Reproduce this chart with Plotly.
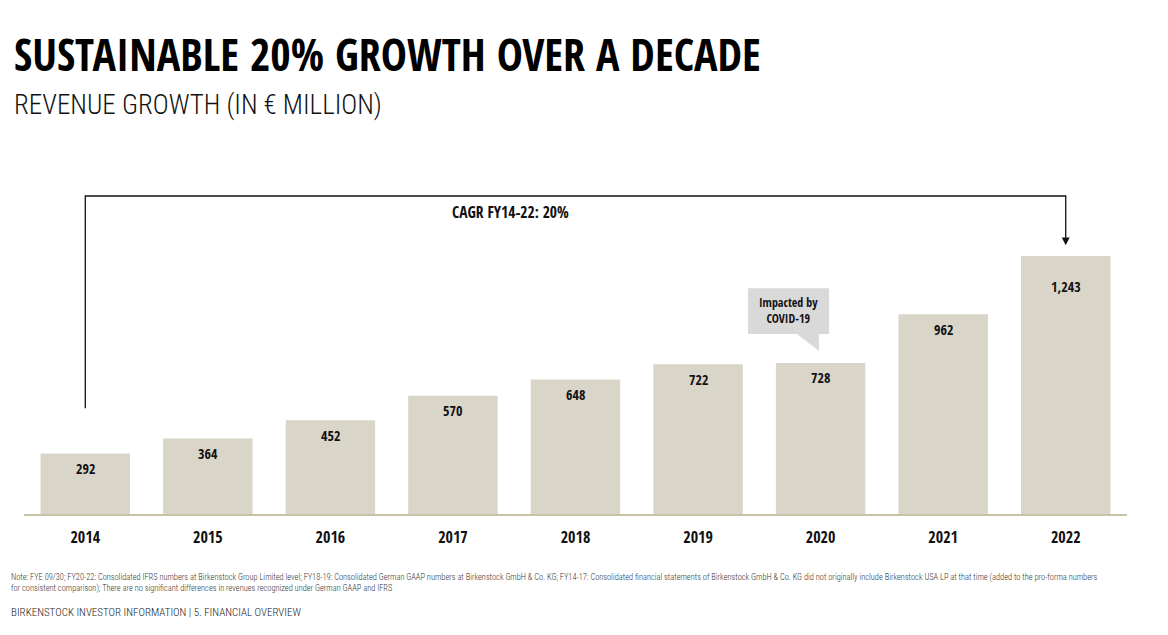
import plotly.graph_objects as go

years = ["2014", "2015", "2016", "2017", "2018", "2019", "2020", "2021", "2022"]
revenue = [292, 364, 452, 570, 648, 722, 728, 962, 1243]
value_labels = ["292", "364", "452", "570", "648", "722", "728", "962", "1,243"]

FONT = "Open Sans Condensed, Roboto Condensed, sans-serif"
LIGHT = "Roboto Condensed, Open Sans Condensed, sans-serif"
BAR = "#d9d5c9"
W, H = 1168, 635
OFF = 8  # page body margin
L, R, T, B = 16, 49, 172, 129
YMAX = 1609

def py(p):
    # page pixel y -> paper y
    return (H - B - (p - OFF)) / (H - T - B)

def px(p):
    return (p - OFF - L) / (W - L - R)

fig = go.Figure()
fig.add_trace(go.Bar(
    x=years, y=revenue, marker=dict(color=BAR, line=dict(width=0)),
    hoverinfo="skip",
))

# value labels inside bars, near the top (x given as category index)
for i, (v, lab) in enumerate(zip(revenue, value_labels)):
    fig.add_annotation(x=i, y=v, xref="x", yref="y", text=lab, showarrow=False,
                       xanchor="center", yanchor="middle",
                       yshift=-31 if i == len(years) - 1 else -15,
                       font=dict(family=FONT, size=14, color="#111111", weight="bold"))

fig.update_layout(
    width=W, height=H, margin=dict(l=L, r=R, t=T, b=B),
    paper_bgcolor="white", plot_bgcolor="white", bargap=0.27,
    showlegend=False,
    xaxis=dict(type="category", showgrid=False, showline=True, linecolor="#c9c0a8", linewidth=1.5,
               ticks="", tickfont=dict(family=FONT, size=16, color="#111111", weight="bold"),
               ticklabelstandoff=8, range=[-0.5, 8.5]),
    yaxis=dict(range=[0, YMAX], visible=False),
)

# bracket for CAGR
fig.add_shape(type="path", xref="x", yref="y",
              path="M 0,510 L 0,1532 L 8,1532 L 8,1320",
              line=dict(color="#111111", width=1.3))
fig.add_annotation(x=8, y=1295, ax=8, ay=1330, xref="x", yref="y", axref="x", ayref="y",
                   text="", showarrow=True, arrowhead=2, arrowsize=1.2, arrowwidth=1.3,
                   arrowcolor="#111111")
fig.add_annotation(x=px(510), y=py(212), xref="paper", yref="paper", xanchor="center", yanchor="middle",
                   text="CAGR FY14-22: 20%", showarrow=False,
                   font=dict(family=FONT, size=15.5, color="#111111", weight="bold"))

# COVID callout
fig.add_shape(type="path", xref="x", yref="y",
              path="M 5.408,1088 L 6.069,1088 L 6.069,867 L 5.985,867 L 5.988,785 L 5.806,867 L 5.408,867 Z",
              fillcolor="#d9d9d9", line=dict(width=0))
fig.add_annotation(x=5.74, y=978, xref="x", yref="y", text="Impacted by<br>COVID-19",
                   showarrow=False, xanchor="center", yanchor="middle",
                   font=dict(family=FONT, size=12, color="#111111", weight="bold"))

# Titles
fig.add_annotation(x=px(12), y=py(54), xref="paper", yref="paper", xanchor="left", yanchor="middle",
                   text="SUSTAINABLE 20% GROWTH OVER A DECADE", showarrow=False,
                   font=dict(family=FONT, size=44, color="#000000", weight="bold"))
fig.add_annotation(x=px(12), y=py(105), xref="paper", yref="paper", xanchor="left", yanchor="middle",
                   text="REVENUE GROWTH (IN € MILLION)", showarrow=False,
                   font=dict(family=LIGHT, size=27, color="#111111", weight=300))

# Footnotes
fig.add_annotation(x=px(9), y=py(583), xref="paper", yref="paper", xanchor="left", yanchor="middle",
                   align="left",
                   text=("Note: FYE 09/30; FY20-22: Consolidated IFRS numbers at Birkenstock Group Limited level; "
                         "FY18-19: Consolidated German GAAP numbers at Birkenstock GmbH & Co. KG; FY14-17: Consolidated "
                         "financial statements of Birkenstock GmbH & Co. KG did not originally include Birkenstock USA LP "
                         "at that time (added to the pro-forma numbers<br>for consistent comparison); There are no "
                         "significant differences in revenues recognized under German GAAP and IFRS"),
                   showarrow=False, font=dict(family=LIGHT, size=8.4, color="#333333", weight=300))
fig.add_annotation(x=px(9), y=py(612), xref="paper", yref="paper", xanchor="left", yanchor="middle",
                   text="BIRKENSTOCK INVESTOR INFORMATION | 5. FINANCIAL OVERVIEW", showarrow=False,
                   font=dict(family=LIGHT, size=11, color="#222222", weight=300))

fig.write_html("out.html")
